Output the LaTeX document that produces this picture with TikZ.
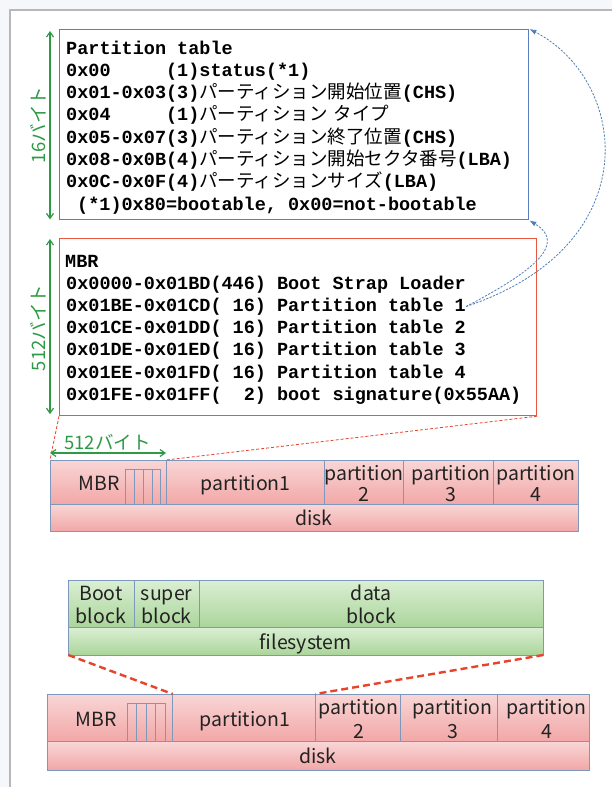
\documentclass[tikz,border=0pt]{standalone}
\usepackage{fontspec}
\setmainfont{Noto Sans CJK JP}
\newfontfamily\jp{Noto Sans CJK JP}
\newfontfamily\cour{Liberation Mono}
\usetikzlibrary{arrows.meta}

\definecolor{pagebg}{HTML}{F5F7FA}
\definecolor{framegray}{HTML}{B8B8B8}
\definecolor{tblue}{HTML}{5B7FBE}
\definecolor{mred}{HTML}{E8563F}
\definecolor{dimgreen}{HTML}{2E9A45}
\definecolor{barline}{HTML}{7D98BA}
\definecolor{pinkT}{HTML}{F9D6D6}
\definecolor{pinkB}{HTML}{F2A7A7}
\definecolor{greenT}{HTML}{DAEFD3}
\definecolor{greenB}{HTML}{ABD59B}
\definecolor{linkblue}{HTML}{4F7FB5}
\definecolor{zoomred}{HTML}{E8442C}
\definecolor{txt}{HTML}{222222}

% monospace bold pieces of the listings
\newcommand\cb[1]{{\cour\bfseries #1}}

\begin{document}
\begin{tikzpicture}[x=1pt,y=-1pt,
  tl/.style={anchor=base west, inner sep=0pt, text=black,
    font=\fontsize{18.5}{20}\selectfont},
  cell/.style={draw=barline, line width=0.9pt, anchor=north west,
    inner sep=0pt, outer sep=0pt},
  pinkcell/.style={cell, top color=pinkT, bottom color=pinkB},
  greencell/.style={cell, top color=greenT, bottom color=greenB},
  slice/.style={draw=barline, line width=0.8pt, anchor=north west,
    inner sep=0pt, outer sep=0pt},
  lab/.style={anchor=base, inner sep=0pt, text=txt,
    font=\fontsize{19.5}{22}\selectfont},
  dimlab/.style={inner sep=0pt, text=dimgreen,
    font=\fontsize{18.5}{20}\selectfont},
  dimarrow/.style={draw=dimgreen, line width=1.2pt,
    {Straight Barb[length=5pt,width=7pt]}-{Straight Barb[length=5pt,width=7pt]}},
  link/.style={draw=linkblue, line width=0.8pt, dash pattern=on 2.2pt off 1.4pt,
    -{Latex[length=7pt,width=5pt]}},
  thinzoom/.style={draw=zoomred, line width=0.8pt, dash pattern=on 3pt off 2pt},
  thickzoom/.style={draw=zoomred, line width=2.4pt, dash pattern=on 7pt off 4pt},
]
\useasboundingbox (0,0) rectangle (612,787);

% page background and frame
\fill[pagebg] (0,0) rectangle (612,787);
\fill[white] (9.5,10) rectangle (612,787);
\draw[framegray, line width=2pt] (9.5,787) -- (9.5,10) -- (612,10);

% ---------- partition table entry ----------
\node[draw=tblue, line width=1.4pt, anchor=north west, inner sep=0pt,
  minimum width=469pt, minimum height=190pt] (tbox) at (59,29) {};
\node[tl] (t0) at (66,54) {\cb{Partition table}};
\node[tl] (t1) at (66,76.3) {\cb{0x00\ \ \ \ \ (1)status(*1)}};
\node[tl] (t2) at (66,98.6) {\cb{0x01-0x03(3)}{\jp パーティション開始位置}\cb{(CHS)}};
\node[tl] (t3) at (66,120.9) {\cb{0x04\ \ \ \ \ (1)}{\jp パーティション\hspace{6pt}タイプ}};
\node[tl] (t4) at (66,143.2) {\cb{0x05-0x07(3)}{\jp パーティション終了位置}\cb{(CHS)}};
\node[tl] (t5) at (66,165.5) {\cb{0x08-0x0B(4)}{\jp パーティション開始セクタ番号}\cb{(LBA)}};
\node[tl] (t6) at (66,187.8) {\cb{0x0C-0x0F(4)}{\jp パーティションサイズ}\cb{(LBA)}};
\node[tl] (t7) at (77,210.1) {\cb{(*1)0x80=bootable, 0x00=not-bootable}};

\draw[dimarrow] ([xshift=-9pt,yshift=-2pt]tbox.north west) -- ([xshift=-9pt,yshift=1pt]tbox.south west);
\node[dimlab, rotate=90] (tdim) at (38,125) {16バイト};

% ---------- MBR layout ----------
\node[draw=mred, line width=1.2pt, anchor=north west, inner sep=0pt,
  minimum width=477pt, minimum height=177pt] (mbox) at (59,238) {};
\node[tl] (m0) at (65,267.5) {\cb{MBR}};
\node[tl] (m1) at (66,289) {\cb{0x0000-0x01BD(446) Boot Strap Loader}};
\node[tl] (m2) at (66,311.3) {\cb{0x01BE-0x01CD(\ 16) Partition table 1}};
\node[tl] (m3) at (66,333.6) {\cb{0x01CE-0x01DD(\ 16) Partition table 2}};
\node[tl] (m4) at (66,355.9) {\cb{0x01DE-0x01ED(\ 16) Partition table 3}};
\node[tl] (m5) at (66,378.2) {\cb{0x01EE-0x01FD(\ 16) Partition table 4}};
\node[tl] (m6) at (66,400.5) {\cb{0x01FE-0x01FF(\ \ 2) boot signature(0x55AA)}};

\draw[dimarrow] ([xshift=-9pt,yshift=-1pt]mbox.north west) -- ([xshift=-9pt,yshift=2pt]mbox.south west);
\node[dimlab, rotate=90] (mdim) at (38,328) {512バイト};

% links from partition table 1 to the entry layout
\draw[link] (m2.east) .. controls (650,245) and (628,80) .. (tbox.north east);
\draw[link] (m2.east) .. controls (532,272) and (568,244) .. (tbox.south east);

% ---------- disk (upper) ----------
\node[pinkcell, minimum width=116pt, minimum height=44.3pt] (mbr1) at (50,460) {};
\node[pinkcell, minimum width=158pt, minimum height=44.3pt] (p1a) at (166,460) {};
\node[pinkcell, minimum width=79.3pt, minimum height=44.3pt] (p2a) at (324,460) {};
\node[pinkcell, minimum width=90pt, minimum height=44.3pt] (p3a) at (403.3,460) {};
\node[pinkcell, minimum width=85pt, minimum height=44.3pt] (p4a) at (493.3,460) {};
\node[pinkcell, minimum width=528.3pt, minimum height=26.7pt] (disk1) at (50,504.3) {};
\foreach \i in {0,1,2,3}
  \node[slice, minimum width=8.75pt, minimum height=35.3pt] (sa\i) at (125.7+\i*8.75,469) {};

\node[lab] (mbr1t) at (99.5,490) {MBR};
\node[lab] (p1at) at (245.5,490) {partition1};
\node[lab] (p2at) at (364,480) {partition};
\node[lab] (p2an) at (364,501) {2};
\node[lab] (p3at) at (451,480) {partition};
\node[lab] (p3an) at (451,501) {3};
\node[lab] (p4at) at (536,480) {partition};
\node[lab] (p4an) at (536,501) {4};
\node[lab] (disk1t) at (314,525) {disk};

\draw[dimarrow] ([yshift=7pt]mbr1.north west) -- ([yshift=7pt]mbr1.north east);
\node[dimlab] (hdim) at (107.5,442) {512バイト};

\draw[thinzoom] (mbox.south west) -- (mbr1.north west);
\draw[thinzoom] (mbox.south east) -- (mbr1.north east);

% ---------- filesystem ----------
\node[greencell, minimum width=65.7pt, minimum height=47.3pt] (boot) at (68.3,580) {};
\node[greencell, minimum width=65.3pt, minimum height=47.3pt] (super) at (134,580) {};
\node[greencell, minimum width=344pt, minimum height=47.3pt] (data) at (199.3,580) {};
\node[greencell, minimum width=475pt, minimum height=27.7pt] (fs) at (68.3,627.3) {};

\node[lab] (boott) at (101,600.7) {Boot};
\node[lab] (bootb) at (101,623.3) {block};
\node[lab] (supert) at (166.7,600.7) {super};
\node[lab] (superb) at (166.7,623.3) {block};
\node[lab] (datat) at (371.3,600.7) {data};
\node[lab] (datab) at (371.3,623.3) {block};
\node[lab] (fst) at (305.8,649) {filesystem};

% ---------- disk (lower) ----------
\node[pinkcell, minimum width=125.7pt, minimum height=47.5pt] (mbr2) at (47,694) {};
\node[pinkcell, minimum width=142.6pt, minimum height=47.5pt] (p1b) at (172.7,694) {};
\node[pinkcell, minimum width=85.4pt, minimum height=47.5pt] (p2b) at (315.3,694) {};
\node[pinkcell, minimum width=97pt, minimum height=47.5pt] (p3b) at (400.7,694) {};
\node[pinkcell, minimum width=91.3pt, minimum height=47.5pt] (p4b) at (497.7,694) {};
\node[pinkcell, minimum width=542pt, minimum height=28.5pt] (disk2) at (47,741.5) {};
\foreach \i in {0,1,2,3}
  \node[slice, minimum width=9.5pt, minimum height=38.2pt] (sb\i) at (127.3+\i*9.5,703.3) {};

\node[lab] (mbr2t) at (96.3,726.7) {MBR};
\node[lab] (p1bt) at (245,726.7) {partition1};
\node[lab] (p2bt) at (358.7,714) {partition};
\node[lab] (p2bn) at (358.7,738.3) {2};
\node[lab] (p3bt) at (452.5,714) {partition};
\node[lab] (p3bn) at (452.5,738.3) {3};
\node[lab] (p4bt) at (546.5,714) {partition};
\node[lab] (p4bn) at (546.5,738.3) {4};
\node[lab] (disk2t) at (318,763.3) {disk};

\draw[thickzoom] (fs.south west) -- (p1b.north west);
\draw[thickzoom] (fs.south east) -- (p2b.north west);
\end{tikzpicture}
\end{document}
